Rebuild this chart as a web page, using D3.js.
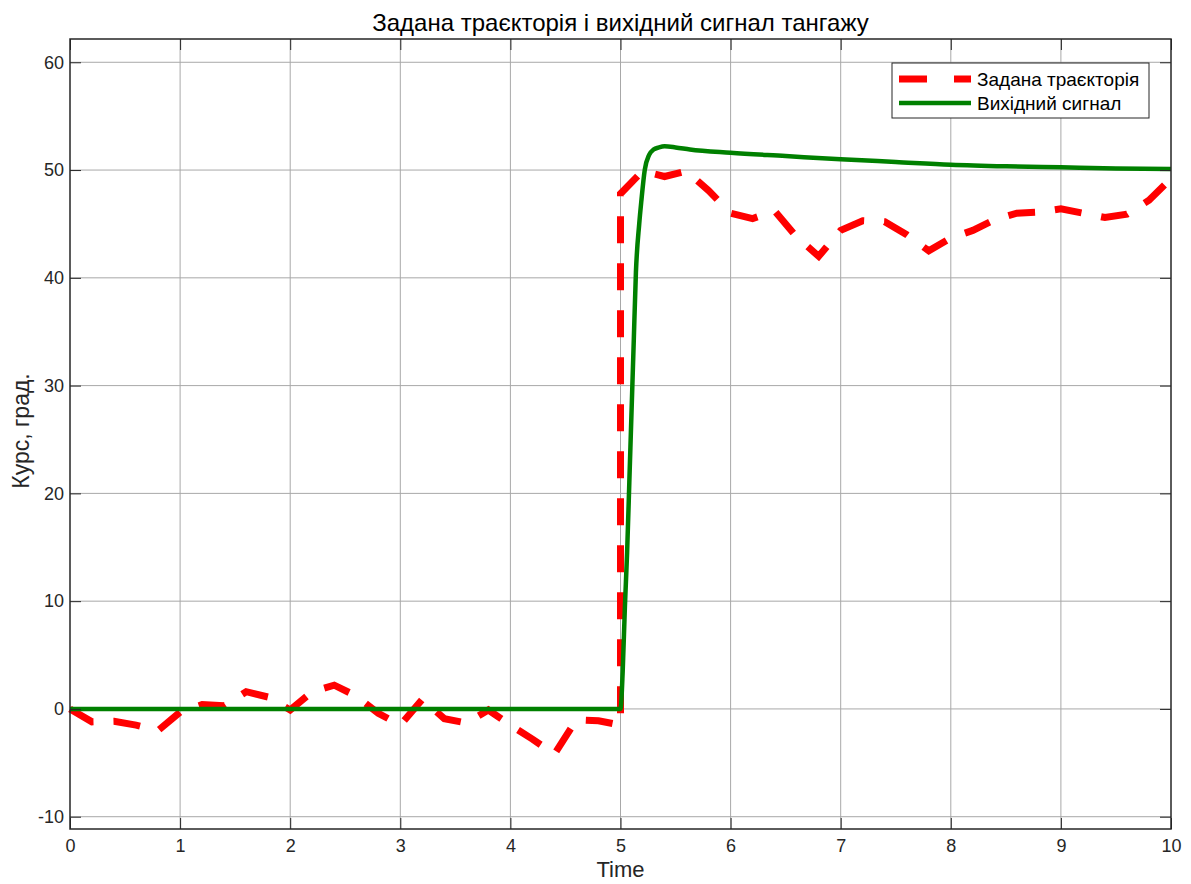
<!DOCTYPE html>
<html>
    <head>
        <meta charset='UTF-8'>
        <title>Задана траєкторія і вихідний сигнал тангажу</title>
        <script src='https://d3js.org/d3.v7.min.js'></script>
        <style type='text/css'>
        body { margin: 0; background: #fff; }
        svg { font-family: "Liberation Sans", Arial, sans-serif; }
        .grid line { stroke: #a8a8a8; stroke-width: 1; }
        </style>
    </head>
    <body>
        <div id="container"></div>
    </body>

    <script>
        // reference trajectory (time, degrees)
        var refT = [0, 0.2, 0.4, 0.6, 0.8, 1.0, 1.2, 1.4, 1.6, 1.8, 2.0, 2.2, 2.4, 2.6, 2.8, 3.0,
                    3.2, 3.4, 3.6, 3.8, 4.0, 4.2, 4.4, 4.6, 4.8, 5.0, 5.0, 5.2, 5.4, 5.6, 5.8, 6.0,
                    6.2, 6.4, 6.6, 6.8, 7.0, 7.2, 7.4, 7.6, 7.8, 8.0, 8.2, 8.4, 8.6, 8.8, 9.0,
                    9.2, 9.4, 9.6, 9.8, 10.0];
        var refY = [0, -1.2, -1.15, -1.5, -2.0, -0.3, 0.4, 0.3, 1.6, 1.1, -0.1, 1.6, 2.2, 1.2, -0.4, -1.5,
                    0.9, -0.9, -1.3, -0.1, -1.5, -2.8, -4.2, -1.0, -1.1, -1.5, 47.8, 49.9, 49.4, 49.9, 48.1, 46.0,
                    45.5, 46.2, 43.8, 42.0, 44.4, 45.3, 45.2, 44.0, 42.5, 43.7, 44.4, 45.4, 46.0, 46.1, 46.4,
                    46.0, 45.6, 45.9, 47.2, 49.2];

        // system output
        var outT = [0, 5.0, 5.02, 5.04, 5.06, 5.08, 5.10, 5.12, 5.14, 5.17, 5.19, 5.22, 5.26, 5.30, 5.35,
                    5.40, 5.50, 5.63, 6.0, 6.5, 7.0, 7.5, 8.0, 8.5, 9.0, 9.5, 10.0];
        var outY = [0, 0, 3.5, 9.5, 14.5, 21, 27.5, 34, 40.5, 45.0, 47.2, 50.0, 51.4, 51.9, 52.1,
                    52.2, 52.1, 51.9, 51.6, 51.3, 51.0, 50.75, 50.5, 50.35, 50.25, 50.15, 50.1];

        var xTicks = d3.range(0, 11, 1);
        var yTicks = [-10, 0, 10, 20, 30, 40, 50, 60];

        var legendLabels = ["Задана траєкторія", "Вихідний сигнал"];
        var colors = ["#ff0000", "#008000"];

        var W = 1191, H = 884;
        var margin = {top: 39, right: 20, bottom: 55, left: 70};
        var width  = 1171 - margin.left;
        var height = 829 - margin.top;

        var svg = d3.select("#container").append("svg")
            .attr("width", W)
            .attr("height", H);

        var g = svg.append("g")
            .attr("transform", "translate(" + margin.left + "," + margin.top + ")");

        var x = d3.scaleLinear().domain([0, 10]).range([0, width]);
        var y = d3.scaleLinear().domain([-11.14, 62.16]).range([height, 0]);

        // grid
        g.append("g").attr("class", "grid")
            .selectAll("line").data(xTicks.slice(1, -1)).enter().append("line")
            .attr("x1", d => x(d)).attr("x2", d => x(d))
            .attr("y1", 0).attr("y2", height);
        g.append("g").attr("class", "grid")
            .selectAll("line").data(yTicks).enter().append("line")
            .attr("x1", 0).attr("x2", width)
            .attr("y1", d => y(d)).attr("y2", d => y(d));

        // data lines
        var line = d3.line()
            .x(function(d) { return x(d[0]); })
            .y(function(d) { return y(d[1]); });

        g.append("path")
            .datum(d3.zip(refT, refY))
            .attr("fill", "none")
            .attr("stroke", colors[0])
            .attr("stroke-width", 7)
            .attr("stroke-dasharray", "27,20")
            .attr("stroke-linejoin", "miter")
            .attr("d", line);

        g.append("path")
            .datum(d3.zip(outT, outY))
            .attr("fill", "none")
            .attr("stroke", colors[1])
            .attr("stroke-width", 4.5)
            .attr("stroke-linejoin", "round")
            .attr("d", line.curve(d3.curveMonotoneX));

        // axes, ticks pointing inward on all four sides
        var tl = 11;
        g.append("g")
            .attr("transform", "translate(0," + height + ")")
            .call(d3.axisBottom(x).tickValues(xTicks).tickSizeInner(-tl).tickSizeOuter(0).tickPadding(10))
            .call(a => a.select(".domain").remove());
        g.append("g")
            .call(d3.axisTop(x).tickValues(xTicks).tickSizeInner(-tl).tickSizeOuter(0).tickFormat(""))
            .call(a => a.select(".domain").remove());
        g.append("g")
            .call(d3.axisLeft(y).tickValues(yTicks).tickSizeInner(-tl).tickSizeOuter(0).tickPadding(6)
                .tickFormat(d => d < 0 ? "-" + Math.abs(d) : d))
            .call(a => a.select(".domain").remove());
        g.append("g")
            .attr("transform", "translate(" + width + ",0)")
            .call(d3.axisRight(y).tickValues(yTicks).tickSizeInner(-tl).tickSizeOuter(0).tickFormat(""))
            .call(a => a.select(".domain").remove());
        g.selectAll(".tick line").attr("stroke", "#262626");
        g.selectAll(".tick text")
            .attr("font-family", "'Liberation Sans', Arial, sans-serif")
            .attr("font-size", 18)
            .attr("fill", "#262626");

        // axes box
        g.append("rect")
            .attr("width", width).attr("height", height)
            .attr("fill", "none")
            .attr("stroke", "#262626")
            .attr("stroke-width", 1.5);

        // title and labels
        svg.append("text")
            .attr("x", margin.left + width / 2).attr("y", 31)
            .attr("text-anchor", "middle")
            .attr("font-size", 24).attr("fill", "#000")
            .text("Задана траєкторія і вихідний сигнал тангажу");
        svg.append("text")
            .attr("x", margin.left + width / 2).attr("y", 877)
            .attr("text-anchor", "middle")
            .attr("font-size", 22).attr("fill", "#262626")
            .text("Time");
        svg.append("text")
            .attr("transform", "translate(29," + (margin.top + height / 2 - 3) + ") rotate(-90)")
            .attr("text-anchor", "middle")
            .attr("font-size", 23).attr("fill", "#262626")
            .text("Курс, град.");

        // legend
        var lg = svg.append("g").attr("transform", "translate(892,63)");
        lg.append("rect")
            .attr("width", 257).attr("height", 55)
            .attr("fill", "#fff")
            .attr("stroke", "#262626").attr("stroke-width", 1);
        legendLabels.forEach(function(lab, i) {
            var yy = 16 + i * 24;
            lg.append("line")
                .attr("x1", 7).attr("x2", 79)
                .attr("y1", yy).attr("y2", yy)
                .attr("stroke", colors[i])
                .attr("stroke-width", i == 0 ? 7 : 4.5)
                .attr("stroke-dasharray", i == 0 ? "28,27" : null);
            lg.append("text")
                .attr("x", 85).attr("y", yy + 7)
                .attr("font-size", 19).attr("fill", "#000")
                .text(lab);
        });
    </script>
</html>
